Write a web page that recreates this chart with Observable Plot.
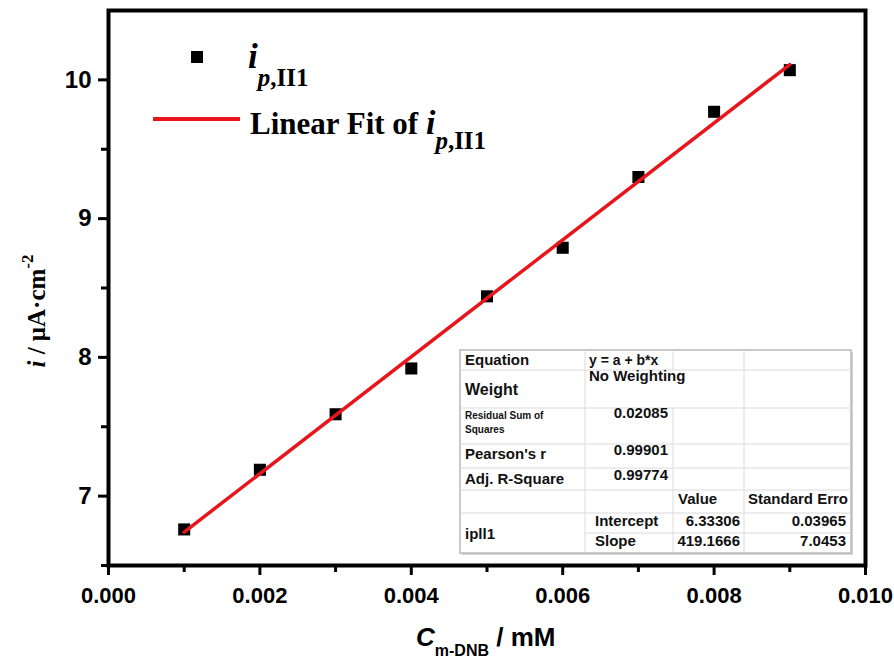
<!DOCTYPE html>
<html>
<head>
<meta charset="utf-8">
<script src="https://cdn.jsdelivr.net/npm/d3@7"></script>
<script src="https://cdn.jsdelivr.net/npm/@observablehq/plot@0.6"></script>
<style>
  html, body { margin: 0; padding: 0; background: white; }
  #wrap { position: relative; width: 894px; height: 663px; }
  #wrap svg { display: block; }
  #overlay { position: absolute; left: 0; top: 0; pointer-events: none; }
</style>
</head>
<body>
<div id="wrap"></div>
<script>
// ---- data ----
const concentration = [0.001, 0.002, 0.003, 0.004, 0.005, 0.006, 0.007, 0.008, 0.009];
const current = [6.76, 7.19, 7.59, 7.92, 8.44, 8.79, 9.30, 9.77, 10.07];

const xMajorTicks = [0.000, 0.002, 0.004, 0.006, 0.008, 0.010];
const xMinorTicks = [0.001, 0.003, 0.005, 0.007, 0.009];
const yMajorTicks = [7, 8, 9, 10];
const yMinorTicks = [6.5, 7.5, 8.5, 9.5];

const seriesName = "ip,II1";
const fitEquation = "y = a + b*x";
const fitWeight = "No Weighting";
const fitStatLabels = ["Residual Sum of Squares", "Pearson's r", "Adj. R-Square"];
const fitStatValues = ["0.02085", "0.99901", "0.99774"];
const paramNames = ["Intercept", "Slope"];
const paramValues = ["6.33306", "419.1666"];
const paramErrors = ["0.03965", "7.0453"];

const data = concentration.map((c, i) => ({c, i: current[i]}));

const RED = "#e8161c";

const plot = Plot.plot({
  width: 894,
  height: 663,
  marginLeft: 108,
  marginRight: 29,
  marginTop: 10,
  marginBottom: 98,
  style: {fontFamily: "'Liberation Sans', Arial, sans-serif", fontSize: "22px", fontWeight: "bold", color: "black", background: "white", overflow: "visible"},
  x: {domain: [0, 0.010]},
  y: {domain: [6.5, 10.5]},
  marks: [
    Plot.axisX({ticks: xMajorTicks, tickFormat: d3.format(".3f"), tickSize: 10, tickPadding: 12, strokeWidth: 3, label: null}),
    Plot.axisX({ticks: xMinorTicks, tickFormat: () => "", tickSize: 7, strokeWidth: 3, label: null}),
    Plot.axisY({ticks: yMajorTicks, tickFormat: d3.format("d"), tickSize: 10, tickPadding: 7, fontSize: 24, strokeWidth: 3, label: null}),
    Plot.axisY({ticks: yMinorTicks, tickFormat: () => "", tickSize: 7, strokeWidth: 3, label: null}),
    Plot.frame({stroke: "black", strokeWidth: 4}),
    Plot.dot(data, {x: "c", y: "i", symbol: "square", r: 6.8, fill: "black", stroke: "none"}),
    Plot.linearRegressionY(data, {x: "c", y: "i", stroke: RED, strokeWidth: 3.5, ci: 0})
  ]
});

const wrap = document.getElementById("wrap");
wrap.appendChild(plot);

// ---- overlay: axis titles, legend, fit table ----
const ov = d3.select(wrap).append("svg")
  .attr("id", "overlay")
  .attr("width", 894).attr("height", 663)
  .style("white-space", "pre");

// y-axis title
const yl = ov.append("text")
  .attr("transform", "translate(45,311) rotate(-90)")
  .attr("text-anchor", "middle")
  .attr("font-family", "'Liberation Serif', 'Times New Roman', serif")
  .attr("font-weight", "bold").attr("font-size", 25);
yl.append("tspan").attr("font-style", "italic").text("i");
yl.append("tspan").text(" / μA·cm");
yl.append("tspan").attr("font-size", 17).attr("dy", -12).text("-2");

// x-axis title
const xl = ov.append("text")
  .attr("x", 416).attr("y", 646)
  .attr("font-family", "'Liberation Sans', Arial, sans-serif")
  .attr("font-weight", "bold").attr("font-size", 26);
xl.append("tspan").attr("font-style", "italic").text("C");
xl.append("tspan").attr("font-size", 16).attr("dy", 10).text("m-DNB");
xl.append("tspan").attr("dy", -10).text(" / mM");

// legend
const serif = "'Liberation Serif', 'Times New Roman', serif";
ov.append("rect").attr("x", 191).attr("y", 51).attr("width", 12).attr("height", 12).attr("fill", "black");
const l1 = ov.append("text").attr("x", 248).attr("y", 68)
  .attr("font-family", serif).attr("font-weight", "bold");
l1.append("tspan").attr("font-style", "italic").attr("font-size", 35).text(seriesName.slice(0, 1));
l1.append("tspan").attr("font-style", "italic").attr("font-size", 25).attr("dy", 18).text(seriesName.slice(1, 2));
l1.append("tspan").attr("font-size", 25).text(seriesName.slice(2));

ov.append("line").attr("x1", 153).attr("x2", 240).attr("y1", 119).attr("y2", 119)
  .attr("stroke", RED).attr("stroke-width", 4);
const l2 = ov.append("text").attr("x", 250).attr("y", 134)
  .attr("font-family", serif).attr("font-weight", "bold");
l2.append("tspan").attr("font-size", 31).text("Linear Fit of ");
l2.append("tspan").attr("font-style", "italic").attr("font-size", 34).text(seriesName.slice(0, 1));
l2.append("tspan").attr("font-style", "italic").attr("font-size", 25).attr("dy", 15).text(seriesName.slice(1, 2));
l2.append("tspan").attr("font-size", 25).text(seriesName.slice(2));

// fit table
const colX = [460, 585, 673, 744, 851];
const rowY = [350, 370, 408, 444, 468, 490, 513, 533, 553];
const tb = ov.append("g");
tb.append("rect").attr("x", colX[0] + 2).attr("y", rowY[0] + 2)
  .attr("width", colX[4] - colX[0]).attr("height", rowY[8] - rowY[0]).attr("fill", "#d4d4d4");
tb.append("rect").attr("x", colX[0]).attr("y", rowY[0])
  .attr("width", colX[4] - colX[0]).attr("height", rowY[8] - rowY[0])
  .attr("fill", "white").attr("stroke", "#b8b8b8").attr("stroke-width", 1.5);
const gl = "#dadada";
for (let k = 1; k < 8; k++) {
  tb.append("line").attr("x1", k === 7 ? colX[1] : colX[0]).attr("x2", colX[4])
    .attr("y1", rowY[k]).attr("y2", rowY[k]).attr("stroke", gl);
}
tb.append("line").attr("x1", colX[1]).attr("x2", colX[1]).attr("y1", rowY[0]).attr("y2", rowY[8]).attr("stroke", gl);
tb.append("line").attr("x1", colX[2]).attr("x2", colX[2]).attr("y1", rowY[0]).attr("y2", rowY[1]).attr("stroke", gl);
tb.append("line").attr("x1", colX[2]).attr("x2", colX[2]).attr("y1", rowY[2]).attr("y2", rowY[8]).attr("stroke", gl);
tb.append("line").attr("x1", colX[3]).attr("x2", colX[3]).attr("y1", rowY[0]).attr("y2", rowY[8]).attr("stroke", gl);

const cells = [
  ["Equation", 465, 365, 15, "start"],
  [fitEquation, 589, 365, 14, "start"],
  ["Weight", 465, 395, 16, "start"],
  [fitWeight, 589, 381, 15, "start"],
  [fitStatLabels[0].slice(0, 15), 465, 419, 10, "start"],
  [fitStatLabels[0].slice(16), 465, 433, 10, "start"],
  [fitStatValues[0], 668, 418, 15, "end"],
  [fitStatLabels[1], 465, 459, 15, "start"],
  [fitStatValues[1], 668, 455, 15, "end"],
  [fitStatLabels[2], 465, 484, 15, "start"],
  [fitStatValues[2], 668, 480, 15, "end"],
  ["Value", 678, 504, 15, "start"],
  ["Standard Erro", 748, 504, 15, "start"],
  ["ipll1", 465, 539, 15, "start"],
  [paramNames[0], 595, 526, 15, "start"],
  [paramValues[0], 740, 526, 15, "end"],
  [paramErrors[0], 846, 526, 15, "end"],
  [paramNames[1], 595, 546, 15, "start"],
  [paramValues[1], 740, 546, 15, "end"],
  [paramErrors[1], 846, 546, 15, "end"]
];
for (const [t, x, y, fs, anchor] of cells) {
  tb.append("text").attr("x", x).attr("y", y).attr("font-size", fs)
    .attr("text-anchor", anchor)
    .attr("font-family", "'Liberation Sans', Arial, sans-serif")
    .attr("font-weight", "bold").attr("fill", "#111").text(t);
}
</script>
</body>
</html>
